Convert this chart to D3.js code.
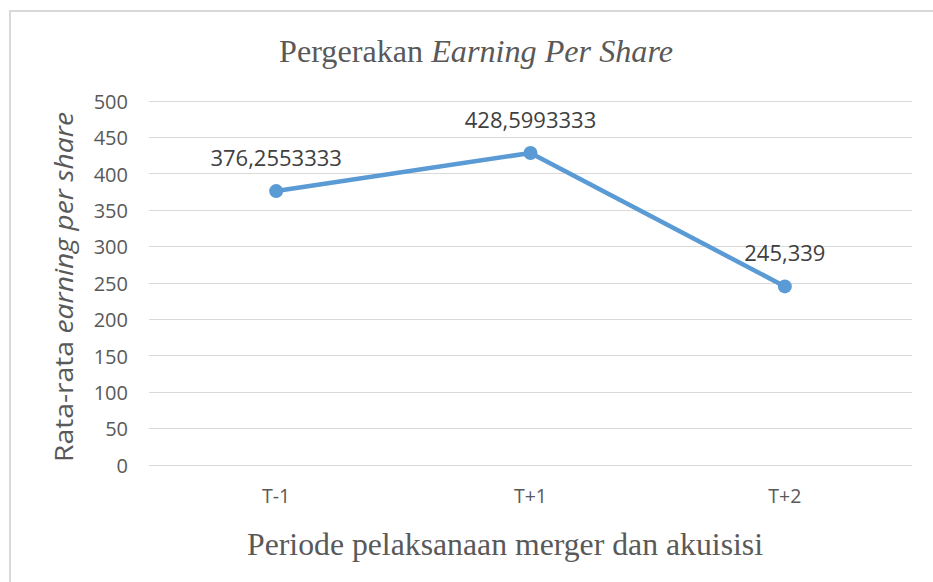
<!DOCTYPE html>
<html>
<head>
<meta charset="utf-8">
<script src="https://cdn.jsdelivr.net/npm/d3@7"></script>
<style>
  html, body { margin: 0; padding: 0; background: #fff; }
  svg { display: block; }
</style>
</head>
<body>
<svg id="chart" width="933" height="582"></svg>
<script>
const categories = ["T-1", "T+1", "T+2"];
const values = [376.2553333, 428.5993333, 245.339];
const valueLabels = ["376,2553333", "428,5993333", "245,339"];
const yTicks = [0, 50, 100, 150, 200, 250, 300, 350, 400, 450, 500];

const svg = d3.select("#chart");
const W = 933, H = 582;
const plot = { left: 149, right: 912, top: 101, bottom: 465 };

// chart border
svg.append("rect")
  .attr("x", 10).attr("y", 11)
  .attr("width", W + 10).attr("height", H + 10)
  .attr("fill", "#fff").attr("stroke", "#d9d9d9").attr("stroke-width", 2);

const x = d3.scaleBand().domain(categories).range([plot.left, plot.right]);
const y = d3.scaleLinear().domain([0, 500]).range([plot.bottom, plot.top]);

// gridlines
svg.append("g").selectAll("line").data(yTicks).join("line")
  .attr("x1", plot.left).attr("x2", plot.right)
  .attr("y1", d => y(d)).attr("y2", d => y(d))
  .attr("stroke", "#d9d9d9").attr("stroke-width", 1)
  .attr("shape-rendering", "crispEdges");

// y axis tick labels
const yAxis = d3.axisLeft(y).tickValues(yTicks).tickSize(0).tickPadding(0).tickFormat(d3.format("d"));
const gy = svg.append("g").attr("transform", `translate(128,0)`).call(yAxis);
gy.select(".domain").remove();
gy.selectAll("text")
  .attr("font-family", "'Open Sans', sans-serif")
  .attr("font-size", 20).attr("fill", "#595959").attr("dy", "0.36em");

// x axis tick labels
const xAxis = d3.axisBottom(x).tickSize(0).tickPadding(0);
const gx = svg.append("g").attr("transform", `translate(0,${plot.bottom})`).call(xAxis);
gx.select(".domain").remove();
gx.selectAll("text")
  .attr("font-family", "'Open Sans', sans-serif")
  .attr("font-size", 19.5).attr("fill", "#595959")
  .attr("y", 38).attr("dy", 0);

// line
const cx = d => x(d) + x.bandwidth() / 2;
const pts = categories.map((c, i) => ({ c, v: values[i], label: valueLabels[i] }));
svg.append("path").datum(pts)
  .attr("fill", "none").attr("stroke", "#5b9bd5").attr("stroke-width", 4.5)
  .attr("stroke-linejoin", "round").attr("stroke-linecap", "round")
  .attr("d", d3.line().x(d => cx(d.c)).y(d => y(d.v)));

svg.append("g").selectAll("circle").data(pts).join("circle")
  .attr("cx", d => cx(d.c)).attr("cy", d => y(d.v)).attr("r", 7)
  .attr("fill", "#5b9bd5");

// data labels
svg.append("g").selectAll("text").data(pts).join("text")
  .attr("x", d => cx(d.c)).attr("y", d => y(d.v) - 25)
  .attr("text-anchor", "middle")
  .attr("font-family", "'Open Sans', sans-serif")
  .attr("font-size", 22).attr("fill", "#404040")
  .text(d => d.label);

// title
const title = svg.append("text")
  .attr("x", 279).attr("y", 62)
  .attr("font-family", "'Liberation Serif', 'Times New Roman', serif")
  .attr("font-size", 32).attr("fill", "#595959")
  .attr("textLength", 394).attr("lengthAdjust", "spacingAndGlyphs");
title.append("tspan").text("Pergerakan ");
title.append("tspan").attr("font-style", "italic").text("Earning Per Share");

// x axis title
svg.append("text")
  .attr("x", 247).attr("y", 555)
  .attr("font-family", "'Liberation Serif', 'Times New Roman', serif")
  .attr("font-size", 32).attr("fill", "#595959")
  .attr("textLength", 516).attr("lengthAdjust", "spacingAndGlyphs")
  .text("Periode pelaksanaan merger dan akuisisi");

// y axis title
const yt = svg.append("text")
  .attr("transform", "translate(73,462) rotate(-90)")
  .attr("x", 0).attr("y", 0)
  .attr("font-family", "'Open Sans', sans-serif")
  .attr("font-size", 25).attr("fill", "#595959")
  .attr("textLength", 350).attr("lengthAdjust", "spacingAndGlyphs");
yt.append("tspan").text("Rata-rata ");
yt.append("tspan").attr("font-style", "italic").text("earning per share");
</script>
</body>
</html>
